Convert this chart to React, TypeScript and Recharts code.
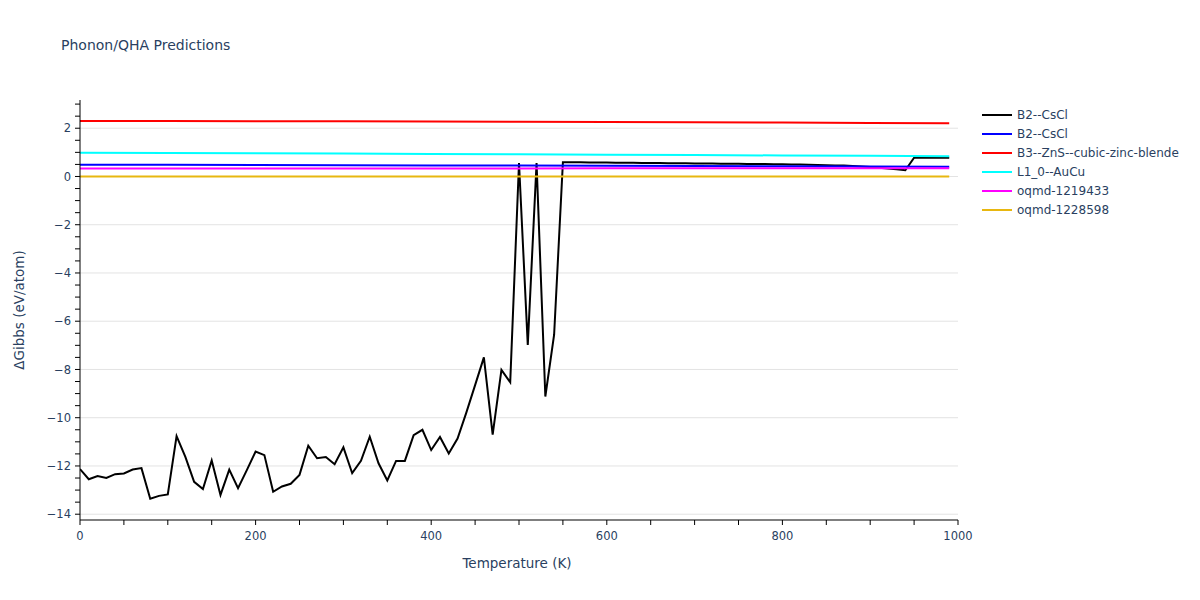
import React from 'react';
import { LineChart, Line, XAxis, YAxis, CartesianGrid, Legend } from 'recharts';

document.body.style.margin = '0';

// Temperatures (K) of the first B2--CsCl run
const blackTemps = [
  0, 10, 20, 30, 40, 50, 60, 70, 80, 90,
  100, 110, 120, 130, 140, 150, 160, 170, 180, 190,
  200, 210, 220, 230, 240, 250, 260, 270, 280, 290,
  300, 310, 320, 330, 340, 350, 360, 370, 380, 390,
  400, 410, 420, 430, 440, 450, 460, 470, 480, 490,
  500, 510, 520, 530, 540, 550, 560, 570, 580, 590,
  600, 610, 620, 630, 640, 650, 660, 670, 680, 690,
  700, 710, 720, 730, 740, 750, 760, 770, 780, 790,
  800, 810, 820, 830, 840, 850, 860, 870, 880, 890,
  900, 910, 920, 930, 940, 950, 960, 970, 980, 990,
];

// ΔGibbs (eV/atom) of the first B2--CsCl run
const blackValues = [
  -12.13, -12.55, -12.42, -12.5, -12.34, -12.31, -12.15, -12.09, -13.36, -13.24,
  -13.18, -10.76, -11.62, -12.66, -12.96, -11.77, -13.2, -12.15, -12.92, -12.17,
  -11.4, -11.55, -13.07, -12.85, -12.74, -12.37, -11.16, -11.68, -11.63, -11.93,
  -11.23, -12.3, -11.79, -10.79, -11.89, -12.6, -11.79, -11.79, -10.72, -10.5,
  -11.34, -10.8, -11.48, -10.86, -9.79, -8.65, -7.5, -10.7, -8.02, -8.53,
  0.56, -6.98, 0.56, -9.12, -6.56, 0.59, 0.59, 0.59, 0.58, 0.58,
  0.58, 0.57, 0.57, 0.57, 0.56, 0.56, 0.56, 0.55, 0.55, 0.55,
  0.54, 0.54, 0.54, 0.53, 0.53, 0.53, 0.52, 0.52, 0.52, 0.51,
  0.51, 0.5, 0.5, 0.49, 0.48, 0.47, 0.46, 0.45, 0.43, 0.41,
  0.39, 0.36, 0.33, 0.3, 0.26, 0.78, 0.78, 0.78, 0.78, 0.78,
];

// The nearly flat curves, read every 100 K
const flatTemps = [0, 100, 200, 300, 400, 500, 600, 700, 800, 900, 990];
const blueValues = [0.49, 0.49, 0.48, 0.47, 0.46, 0.45, 0.44, 0.43, 0.42, 0.41, 0.4];
const redValues = [2.3, 2.3, 2.29, 2.29, 2.28, 2.27, 2.26, 2.25, 2.24, 2.22, 2.21];
const cyanValues = [0.98, 0.97, 0.96, 0.95, 0.93, 0.92, 0.9, 0.89, 0.87, 0.86, 0.84];
const magentaValues = [0.33, 0.33, 0.33, 0.33, 0.33, 0.33, 0.34, 0.34, 0.34, 0.34, 0.34];
const orangeValues = [0, 0, 0, 0, 0, 0, 0, 0, 0, 0, 0];

// Axis ticks
const xMinorTicks = [
  0, 50, 100, 150, 200, 250, 300, 350, 400, 450, 500,
  550, 600, 650, 700, 750, 800, 850, 900, 950, 1000,
];
const xGridTicks = [200, 400, 600, 800];
const yMinorTicks = [
  -14, -13.5, -13, -12.5, -12, -11.5, -11, -10.5, -10, -9.5, -9, -8.5, -8, -7.5,
  -7, -6.5, -6, -5.5, -5, -4.5, -4, -3.5, -3, -2.5, -2, -1.5, -1, -0.5,
  0, 0.5, 1, 1.5, 2, 2.5, 3,
];
const yGridTicks = [-14, -12, -10, -8, -6, -4, -2, 0, 2];

const toPoints = (ts: number[], vs: number[]) => ts.map((t, i) => ({ t, v: vs[i] }));

const series = [
  { name: 'B2--CsCl', color: '#000000', data: toPoints(blackTemps, blackValues) },
  { name: 'B2--CsCl', color: '#0000ff', data: toPoints(flatTemps, blueValues) },
  { name: 'B3--ZnS--cubic-zinc-blende', color: '#ff0000', data: toPoints(flatTemps, redValues) },
  { name: 'L1_0--AuCu', color: '#00ffff', data: toPoints(flatTemps, cyanValues) },
  { name: 'oqmd-1219433', color: '#ff00ff', data: toPoints(flatTemps, magentaValues) },
  { name: 'oqmd-1228598', color: '#e8b710', data: toPoints(flatTemps, orangeValues) },
];

const FONT = "'DejaVu Sans', Verdana, sans-serif";
const TEXT = '#2a3f5f';

const fmt = (v: number) => (v < 0 ? '\u2212' + Math.abs(v) : String(v));

const XTick = (props: any) => {
  const { x, y, payload } = props;
  const v = payload.value;
  return (
    <g>
      <line x1={x} x2={x} y1={y} y2={y + 5} stroke="#000" />
      {v % 200 === 0 && (
        <text x={x} y={y + 20} textAnchor="middle" fontSize={11.5} fontFamily={FONT} fill={TEXT}>
          {fmt(v)}
        </text>
      )}
    </g>
  );
};

const YTick = (props: any) => {
  const { x, y, payload } = props;
  const v = payload.value;
  const major = Math.abs(v % 2) < 1e-9;
  return (
    <g>
      <line x1={x - 5} x2={x} y1={y} y2={y} stroke="#000" />
      {major && (
        <text x={x - 9} y={y} dy="0.36em" textAnchor="end" fontSize={11.5} fontFamily={FONT} fill={TEXT}>
          {fmt(v)}
        </text>
      )}
    </g>
  );
};

const XLabel = (props: any) => {
  const vb = props.viewBox;
  return (
    <text x={vb.x + vb.width / 2 - 2} y={vb.y + 48} textAnchor="middle" fontSize={13.5} fontFamily={FONT} fill={TEXT}>
      Temperature (K)
    </text>
  );
};

const YLabel = (props: any) => {
  const vb = props.viewBox;
  const x = vb.x + 24;
  const cy = vb.y + vb.height / 2;
  return (
    <text x={x} y={cy} transform={`rotate(-90 ${x} ${cy})`} textAnchor="middle" fontSize={13.5} fontFamily={FONT} fill={TEXT}>
      ΔGibbs (eV/atom)
    </text>
  );
};

const LegendBox = (props: any) => (
  <div style={{ fontFamily: FONT, fontSize: 12, color: TEXT }}>
    {(props.payload || []).map((entry: any, i: number) => (
      <div key={i} style={{ display: 'flex', alignItems: 'center', height: 19 }}>
        <svg width={30} height={4} style={{ display: 'block' }}>
          <line x1={0} x2={30} y1={2} y2={2} stroke={entry.color} strokeWidth={2} />
        </svg>
        <span style={{ marginLeft: 5, whiteSpace: 'nowrap' }}>{entry.value}</span>
      </div>
    ))}
  </div>
);

const App = () => {
  return (
    <div style={{ position: 'relative', width: 1200, height: 600, background: '#fff' }}>
      <svg width={1200} height={60} style={{ position: 'absolute', left: 0, top: 0, pointerEvents: 'none' }}>
        <text x={61} y={50} fontSize={14} fontFamily={FONT} fill={TEXT}>
          Phonon/QHA Predictions
        </text>
      </svg>
      <LineChart width={1200} height={600} margin={{ top: 100, right: 242, bottom: 50, left: 0 }}>
        <XAxis xAxisId="grid" type="number" dataKey="t" domain={[0, 1000]} ticks={xGridTicks} hide />
        <YAxis yAxisId="grid" type="number" domain={[-14.24, 3.17]} ticks={yGridTicks} allowDataOverflow hide />
        <CartesianGrid xAxisId="grid" yAxisId="grid" stroke="#e3e3e3" strokeWidth={1} syncWithTicks />
        <XAxis
          type="number"
          dataKey="t"
          domain={[0, 1000]}
          ticks={xMinorTicks}
          interval={0}
          allowDataOverflow
          height={30}
          tickSize={0}
          tickMargin={0}
          tickLine={false}
          tick={<XTick />}
          axisLine={{ stroke: '#000' }}
          label={<XLabel />}
        />
        <YAxis
          type="number"
          domain={[-14.24, 3.17]}
          ticks={yMinorTicks}
          interval={0}
          allowDataOverflow
          width={80}
          tickSize={0}
          tickMargin={0}
          tickLine={false}
          tick={<YTick />}
          axisLine={{ stroke: '#000' }}
          label={<YLabel />}
        />
        {series.map((s, i) => (
          <Line
            key={i}
            data={s.data}
            dataKey="v"
            name={s.name}
            type="linear"
            stroke={s.color}
            strokeWidth={2}
            dot={false}
            activeDot={false}
            isAnimationActive={false}
          />
        ))}
        <Legend
          layout="vertical"
          align="center"
          verticalAlign="middle"
          content={<LegendBox />}
          wrapperStyle={{ left: 982, top: 105, width: 215, height: 120 }}
        />
      </LineChart>
    </div>
  );
};

export default App;
